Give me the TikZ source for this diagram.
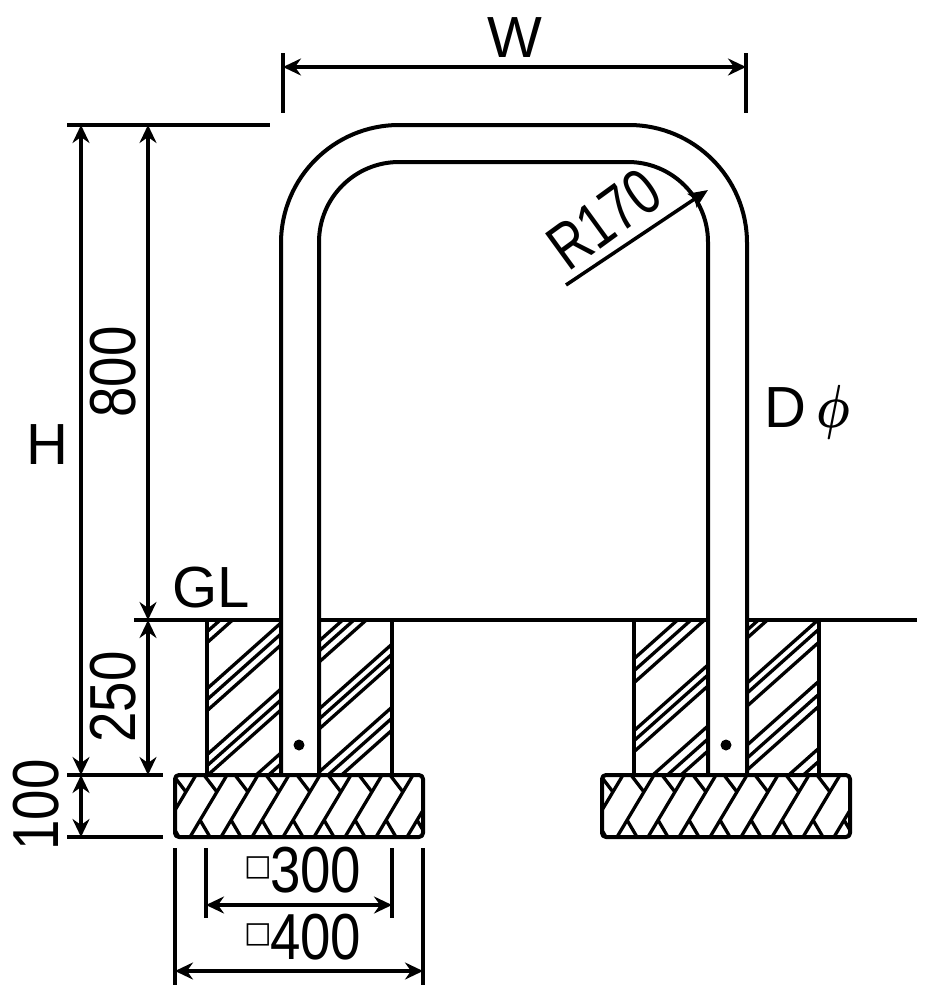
\documentclass[tikz,border=0pt]{standalone}
\usepackage{fontspec}
\usepackage{amsmath}
\usetikzlibrary{arrows.meta}
\setmainfont{Liberation Sans}
\newfontfamily\dimfont[FakeStretch=0.84]{Liberation Sans}
\newfontfamily\radfont[FakeStretch=0.78]{Liberation Sans}
\newfontfamily\boxfont{DejaVu Sans}
\tikzset{
  line/.style={line width=0.04cm,line join=round},
  hatch/.style={line width=0.033cm},
  dimline/.style={line width=0.035cm,{Stealth[length=0.18cm,width=0.17cm,inset=0.06cm]}-{Stealth[length=0.18cm,width=0.17cm,inset=0.06cm]}},
  dimend/.style={line width=0.035cm},
  capfont/.style={font=\fontsize{16.5}{16.5}\selectfont,inner sep=0pt},
  numfont/.style={font=\dimfont\fontsize{18.5}{18.5}\selectfont,inner sep=0pt},
}
% one side of a concrete block, hatch lines y = c - 0.89 x
\newcommand{\hatchpart}[3]{%
  \begin{scope}
    \clip (#1,620) rectangle (#2,775);
    \foreach \c in {#3}
      \draw[hatch] (#1,{\c-0.89*#1}) -- (#2,{\c-0.89*#2});
  \end{scope}}
\newcommand{\smallbox}{\raisebox{0.165cm}{\boxfont\fontsize{8.3}{8.3}\selectfont □}\kern-0.02cm}
\begin{document}
\begin{tikzpicture}[x=0.01cm,y=-0.01cm]
  \useasboundingbox (0,0) rectangle (939,1000);
  % Concrete hatching, left block
  \hatchpart{207}{281}{806,816,827,873,884,895,939,950,960,1003,1014,1025}
  \hatchpart{319}{392}{925,935,946,993,1003,1013,1056,1067,1079}
  % Concrete hatching, right block
  \hatchpart{633}{707}{1223,1235,1247,1295,1305,1316,1356,1369,1381}
  \hatchpart{745}{818}{1295,1303,1348,1358,1371,1410,1423,1435,1477,1490}
  % Crushed stone under each block
  \foreach \dx in {0,427} {
    \begin{scope}[xshift=\dx*0.01cm]
      \begin{scope}
        \clip (175,775) rectangle (423,837);
        \foreach \i in {-1,...,7} {
          \pgfmathsetmacro{\bx}{190+31*\i}
          \draw[hatch] (\bx,837) -- ({\bx+37},775);
          \draw[hatch] ({\bx+14},775) -- ({\bx+27},792);
          \draw[hatch] ({\bx+10},820) -- ({\bx+20},837);
        }
      \end{scope}
      \draw[line,rounded corners=0.04cm] (175,775) rectangle (423,837);
      % Block sides
      \draw[line] (207,620) -- (207,775);
      \draw[line] (392,620) -- (392,775);
    \end{scope}
  }
  % U-shaped pipe
  \draw[line,rounded corners=1.18cm] (281,775) -- (281,125) -- (747,125) -- (747,775);
  \draw[line,rounded corners=0.8cm] (319,775) -- (319,162) -- (708,162) -- (708,775);
  \fill (299,745) circle (5.5);
  \fill (726,745) circle (5.5);
  % Ground line
  \draw[line] (134,620) -- (281,620);
  \draw[line] (319,620) -- (708,620);
  \draw[line] (747,620) -- (917,620);
  \node[capfont,anchor=base west] (gl) at (172,607) {GL};
  % W
  \coordinate (wLeft) at (283,67);
  \coordinate (wRight) at (746,67);
  \draw[dimend] (283,53) -- (283,113);
  \draw[dimend] (746,53) -- (746,113);
  \draw[dimline] (wLeft) -- (wRight);
  \node[capfont] (wLabel) at (515,38) {W};
  % H, 800, 250, 100
  \coordinate (hTop) at (81,125);
  \coordinate (hBot) at (81,775);
  \coordinate (hFoot) at (81,837);
  \coordinate (aTop) at (148,125);
  \coordinate (aGround) at (148,620);
  \coordinate (aBot) at (148,775);
  \draw[dimend] (67,125) -- (270,125);
  \draw[dimend] (67,775) -- (163,775);
  \draw[dimend] (67,837) -- (163,837);
  \draw[dimline] (hTop) -- (hBot);
  \draw[dimline] (hBot) -- (hFoot);
  \draw[dimline] (aTop) -- (aGround);
  \draw[dimline] (aGround) -- (aBot);
  \node[capfont] (hLabel) at (47,445) {H};
  \node[numfont,rotate=90] (lab800) at (113,372) {800};
  \node[numfont,rotate=90] (lab250) at (113,697) {250};
  \node[numfont,rotate=90] (lab100) at (36,805) {100};
  % Bottom widths
  \coordinate (sLeft) at (206,905);
  \coordinate (sRight) at (392,905);
  \coordinate (tLeft) at (175,971);
  \coordinate (tRight) at (423,971);
  \draw[dimend] (206,848) -- (206,918);
  \draw[dimend] (392,848) -- (392,918);
  \draw[dimend] (175,848) -- (175,985);
  \draw[dimend] (423,848) -- (423,985);
  \draw[dimline] (sLeft) -- (sRight);
  \draw[dimline] (tLeft) -- (tRight);
  \node[numfont,anchor=base east] (lab300) at (362,892) {\smallbox 300};
  \node[numfont,anchor=base east] (lab400) at (362,959) {\smallbox 400};
  % R170 and D
  \coordinate (rFoot) at (566,285);
  \coordinate (rTip) at (708,190);
  \draw[dimend,-{Stealth[length=0.19cm,width=0.16cm,inset=0.03cm]}] (rFoot) -- (rTip);
  \node[inner sep=0pt,font=\radfont\fontsize{18.5}{18.5}\selectfont,rotate=36] (labR) at (604,219) {R170};
  \node[capfont,anchor=base west] (labD) at (764,427) {D\,\scalebox{0.78}[1]{$\boldsymbol{\phi}$}};
\end{tikzpicture}
\end{document}
